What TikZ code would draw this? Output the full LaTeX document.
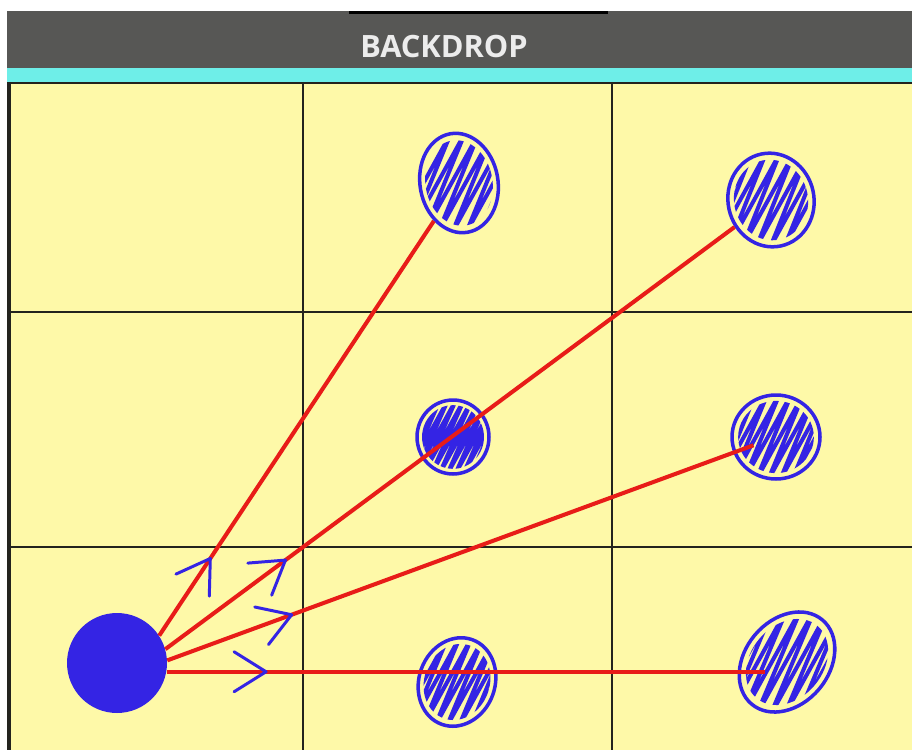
\documentclass[tikz,border=0pt]{standalone}
\usepackage{fontspec}
\newfontfamily\barfont{Open Sans}
\usetikzlibrary{shapes.geometric,arrows.meta,decorations.markings}

\definecolor{barfill}{RGB}{87,87,85}
\definecolor{stripcyan}{RGB}{110,238,232}
\definecolor{padyellow}{RGB}{254,249,168}
\definecolor{gridline}{RGB}{35,35,30}
\definecolor{ink}{RGB}{52,36,228}
\definecolor{rayred}{RGB}{232,28,24}

% zigzag fill of a blob: centre x, centre y, rx, ry, tilt, gap
\newcommand\scrib[6]{%
  \pgfmathsetmacro\scribr{max(#3,#4)}%
  \pgfmathsetmacro\scribdx{1.1*\scribr}%
  \pgfmathtruncatemacro\scribn{(2*\scribr+\scribdx)/#6+1}%
  \begin{scope}[shift={(#1,#2)}]
    \clip[rotate=#5] (0,0) ellipse ({0.86*#3} and {0.86*#4});
    \draw[scribble] ({-\scribr-\scribdx},{\scribr})
      \foreach \k in {1,...,\scribn} { -- ++(\scribdx,{-2*\scribr}) -- ++({#6-\scribdx},{2*\scribr}) };
  \end{scope}}

\begin{document}
\begin{tikzpicture}[x=0.02cm, y=-0.02cm,
    ray/.style={draw=rayred, line width=2.3pt},
    blob/.style={ellipse, draw=ink, line width=2pt, inner sep=0pt},
    scribble/.style={draw=ink, line width=2.3pt, line join=round, line cap=round},
    chev/.style={postaction={decorate}, decoration={markings,
        mark=at position #1 with {\arrow{Straight Barb[length=0.64cm, width=0.8cm, line width=1.7pt, color=ink, round]}}}}]
    \useasboundingbox (0,0) rectangle (912,750);
    \fill[white] (0,0) rectangle (912,750);

    \fill[barfill] (7,11) rectangle (912,68);
    \fill[black] (349,11) rectangle (608,14);
    \fill[stripcyan] (7,68) rectangle (912,82);
    \fill[padyellow] (9,82) rectangle (912,750);
    \node[text={rgb,255:red,236;green,236;blue,236}] (title) at (444,47) {\barfont\bfseries\fontsize{17.5}{20}\selectfont BACKDROP};

    \draw[gridline, line width=1.2pt] (303,82) -- (303,750) (612,82) -- (612,750)
        (9,312) -- (912,312) (9,547) -- (912,547);
    \draw[gridline, line width=0.8pt] (9,83) -- (912,83);
    \draw[gridline, line width=2.2pt] (9,82) -- (9,750);

    \node[blob, minimum width=1.56cm, minimum height=2cm, rotate=10] (tA) at (459,183) {};
    \scrib{459}{183}{39}{50}{10}{14}
    \node[blob, minimum width=1.72cm, minimum height=1.88cm, rotate=12] (tB) at (771,200) {};
    \scrib{771}{200}{43}{47}{12}{14}
    \node[blob, minimum width=1.44cm, minimum height=1.48cm] (tC) at (453,437) {};
    \scrib{453}{437}{36}{37}{0}{8}
    \node[blob, minimum width=1.76cm, minimum height=1.68cm] (tD) at (776,437) {};
    \scrib{776}{437}{44}{42}{0}{12}
    \node[blob, minimum width=1.52cm, minimum height=1.8cm, rotate=-20] (tE) at (457,682) {};
    \scrib{457}{682}{38}{45}{-20}{12}
    \node[blob, minimum width=1.68cm, minimum height=2.2cm, rotate=-40] (tF) at (787,662) {};
    \scrib{787}{662}{42}{55}{-40}{14}

    \node[circle, fill=ink, minimum size=2cm, inner sep=0pt] (ball) at (117,663) {};

    \draw[ray, chev=1.88cm] (ball.33) -- (tA);
    \draw[ray, chev=3.02cm] (ball.16) -- (tB);
    \draw[ray, chev=2.68cm, shorten >=0.48cm] (ball.3) -- (tD.center);
    \draw[ray, chev=2.02cm, shorten >=0.44cm] (ball.-10) -- (ball.-10 -| tF.center);
\end{tikzpicture}
\end{document}
